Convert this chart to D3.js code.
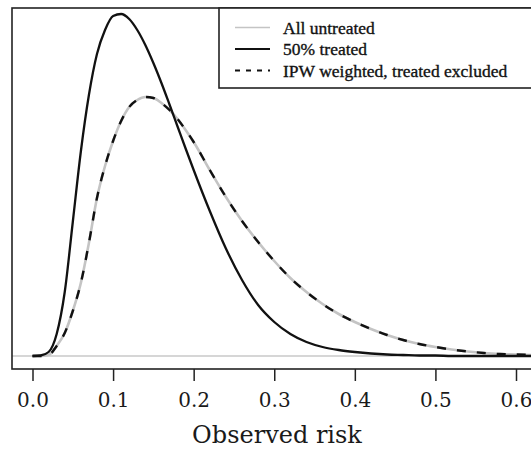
<!DOCTYPE html>
<html>
<head>
<meta charset="utf-8">
<script src="https://cdn.jsdelivr.net/npm/d3@7"></script>
<style>
  html, body { margin: 0; padding: 0; background: #fff; }
  svg { display: block; }
</style>
</head>
<body>
<script>
// ---- data ----
const riskGrid = [0.00, 0.01, 0.02, 0.03, 0.04, 0.05, 0.06, 0.07, 0.08, 0.09,
                  0.10, 0.11, 0.12, 0.13, 0.14, 0.15, 0.16, 0.17, 0.18, 0.19,
                  0.20, 0.22, 0.24, 0.26, 0.28, 0.30, 0.32, 0.34, 0.36, 0.38,
                  0.40, 0.42, 0.44, 0.46, 0.48, 0.50, 0.52, 0.54, 0.56, 0.58,
                  0.60, 0.62];

const allUntreated = [0.00, 0.00, 0.02, 0.20, 0.46, 0.90, 1.46, 2.26, 3.16, 3.80,
                      4.30, 4.70, 4.98, 5.12, 5.18, 5.16, 5.06, 4.92, 4.74, 4.52,
                      4.28, 3.72, 3.18, 2.70, 2.28, 1.90, 1.56, 1.28, 1.04, 0.84,
                      0.68, 0.54, 0.42, 0.32, 0.24, 0.18, 0.13, 0.09, 0.06, 0.04,
                      0.03, 0.02];

const treated50 = [0.00, 0.01, 0.08, 0.44, 1.28, 2.68, 4.09, 5.22, 6.04, 6.52,
                   6.80, 6.84, 6.74, 6.52, 6.22, 5.86, 5.46, 5.03, 4.59, 4.15,
                   3.72, 2.90, 2.15, 1.52, 1.02, 0.68, 0.44, 0.28, 0.18, 0.12,
                   0.08, 0.05, 0.03, 0.02, 0.01, 0.01, 0.00, 0.00, 0.00, 0.00,
                   0.00, 0.00];

const ipwWeighted = [0.00, 0.00, 0.02, 0.20, 0.46, 0.90, 1.46, 2.26, 3.16, 3.80,
                     4.30, 4.70, 4.98, 5.12, 5.18, 5.16, 5.06, 4.92, 4.74, 4.52,
                     4.28, 3.72, 3.18, 2.70, 2.28, 1.90, 1.56, 1.28, 1.04, 0.84,
                     0.68, 0.54, 0.42, 0.32, 0.24, 0.18, 0.13, 0.09, 0.06, 0.04,
                     0.03, 0.02];

const xTicks = [0.0, 0.1, 0.2, 0.3, 0.4, 0.5, 0.6];
const legendLabels = ["All untreated", "50% treated", "IPW weighted, treated excluded"];
const xTitle = "Observed risk";

// ---- layout ----
const W = 531, H = 450;
const box = { left: 12, right: 548, top: 8, bottom: 369 };

const svg = d3.select("body").append("svg")
  .attr("width", W).attr("height", H);

const x = d3.scaleLinear().domain([0, 0.6]).range([32.5, 516]);
const y = d3.scaleLinear().domain([0, 7]).range([356, 6]);

svg.append("defs").append("clipPath").attr("id", "plotclip")
  .append("rect")
  .attr("x", box.left).attr("y", box.top)
  .attr("width", box.right - box.left).attr("height", box.bottom - box.top);

const plot = svg.append("g").attr("clip-path", "url(#plotclip)");

// baseline at zero density
plot.append("line")
  .attr("x1", box.left).attr("x2", box.right)
  .attr("y1", y(0)).attr("y2", y(0))
  .attr("stroke", "#c8c8c8").attr("stroke-width", 1.3);

const line = d3.line()
  .x((d, i) => x(riskGrid[i]))
  .y(d => y(d))
  .curve(d3.curveMonotoneX);

plot.append("path").datum(allUntreated)
  .attr("d", line).attr("fill", "none")
  .attr("stroke", "#c4c4c4").attr("stroke-width", 2.6);

plot.append("path").datum(ipwWeighted)
  .attr("d", line).attr("fill", "none")
  .attr("stroke", "#111").attr("stroke-width", 2.4)
  .attr("stroke-dasharray", "9,11");

plot.append("path").datum(treated50)
  .attr("d", line).attr("fill", "none")
  .attr("stroke", "#111").attr("stroke-width", 2.3);

// plot box
svg.append("rect")
  .attr("x", box.left).attr("y", box.top)
  .attr("width", box.right - box.left).attr("height", box.bottom - box.top)
  .attr("fill", "none").attr("stroke", "#222").attr("stroke-width", 1.6);

// x axis
const axis = svg.append("g")
  .attr("transform", `translate(0,${box.bottom})`)
  .call(d3.axisBottom(x).tickValues(xTicks).tickFormat(d3.format(".1f"))
        .tickSize(12).tickSizeOuter(0).tickPadding(12));
axis.select(".domain").remove();
axis.selectAll(".tick line").attr("stroke", "#222").attr("stroke-width", 1.5);
axis.selectAll(".tick text")
  .attr("fill", "#1a1a1a")
  .style("font-family", "'DejaVu Serif', serif")
  .style("font-size", "20px");

svg.append("text")
  .attr("x", 277).attr("y", 443)
  .attr("text-anchor", "middle")
  .attr("fill", "#1a1a1a")
  .style("font-family", "'DejaVu Serif', serif")
  .style("font-size", "24px")
  .text(xTitle);

// legend
const lg = svg.append("g");
lg.append("rect")
  .attr("x", 219).attr("y", box.top)
  .attr("width", 340).attr("height", 88 - box.top)
  .attr("fill", "#fff").attr("stroke", "#222").attr("stroke-width", 1.6);

const rowY = [27.5, 49, 70.5];
const legendStyles = [
  { stroke: "#c4c4c4", width: 1.6, dash: null },
  { stroke: "#111", width: 2.0, dash: null },
  { stroke: "#111", width: 2.0, dash: "5,6" }
];
legendLabels.forEach((lab, i) => {
  const s = legendStyles[i];
  const ln = lg.append("line")
    .attr("x1", 235).attr("x2", 270)
    .attr("y1", rowY[i]).attr("y2", rowY[i])
    .attr("stroke", s.stroke).attr("stroke-width", s.width);
  if (s.dash) ln.attr("stroke-dasharray", s.dash);
  lg.append("text")
    .attr("x", 283).attr("y", rowY[i] + 6)
    .attr("fill", "#111")
    .attr("stroke", "#111").attr("stroke-width", 0.35)
    .style("font-family", "'Liberation Serif', 'Times New Roman', serif")
    .style("font-size", "17.5px")
    .text(lab);
});
</script>
</body>
</html>
